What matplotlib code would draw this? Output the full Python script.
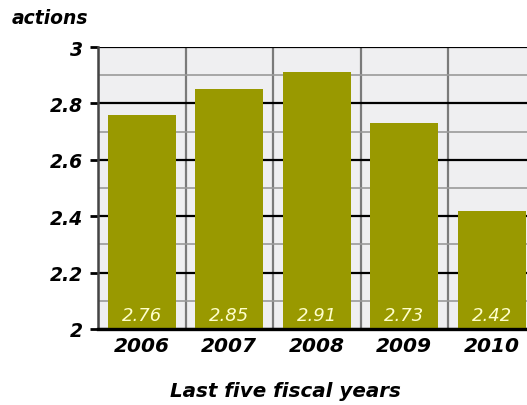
import numpy as np
import matplotlib
matplotlib.use("Agg")
import matplotlib.pyplot as plt

years = ["2006", "2007", "2008", "2009", "2010"]
values = [2.76, 2.85, 2.91, 2.73, 2.42]
value_labels = ["2.76", "2.85", "2.91", "2.73", "2.42"]
y_ticks = [2.0, 2.2, 2.4, 2.6, 2.8, 3.0]
y_tick_labels = ["2", "2.2", "2.4", "2.6", "2.8", "3"]
y_minor = [2.1, 2.3, 2.5, 2.7, 2.9]

W, H = 527, 406
fig = plt.figure(figsize=(W / 100, H / 100), dpi=100)
fig.patch.set_facecolor("white")

# axes runs past the right edge, like the cropped original
ax = fig.add_axes([98 / W, 76 / H, 437.5 / W, 282 / H])
ax.set_facecolor("#efeff1")

x = np.arange(len(years))
ax.bar(x, [v - 2 for v in values], bottom=2, width=0.78, color="#999900", zorder=3)

for xi, lab in zip(x, value_labels):
    ax.text(xi, 2.05, lab, ha="center", va="center", color="#ffffcc",
            fontsize=13, fontstyle="italic", zorder=4)

ax.set_xlim(-0.5, 4.5)
ax.set_ylim(2, 3)

ax.set_yticks(y_ticks)
ax.set_yticklabels(y_tick_labels, fontsize=13.5, fontweight="bold", fontstyle="italic")
ax.set_yticks(y_minor, minor=True)
ax.set_xticks(x)
ax.set_xticklabels(years, fontsize=14.5, fontweight="bold", fontstyle="italic")
ax.set_xticks(np.arange(-0.5, 5), minor=True)

ax.tick_params(axis="y", which="major", length=6, width=2, color="black", pad=5)
ax.tick_params(axis="y", which="minor", length=0)
ax.tick_params(axis="x", which="both", length=0, pad=5)

ax.grid(axis="y", which="major", color="black", linewidth=1.6, zorder=1)
ax.grid(axis="y", which="minor", color="#9a9a9a", linewidth=1.2, zorder=1)
ax.grid(axis="x", which="minor", color="#7a7a7a", linewidth=1.6, zorder=1)
ax.grid(axis="x", which="major", visible=False)
ax.set_axisbelow(True)

for side in ["top", "right"]:
    ax.spines[side].set_visible(False)
ax.spines["left"].set_color("#444444")
ax.spines["left"].set_linewidth(1.8)
ax.spines["bottom"].set_color("black")
ax.spines["bottom"].set_linewidth(2.4)
ax.spines["bottom"].set_zorder(5)

ax.set_xlabel("Last five fiscal years", fontsize=14.3, fontweight="bold",
              fontstyle="italic")
ax.xaxis.label.set_verticalalignment("center")
ax.xaxis.set_label_coords(187 / 437.5, -62 / 282)

fig.text(12 / W, 1 - 18 / H, "actions", fontsize=13.5, fontweight="bold",
         fontstyle="italic", ha="left", va="center")

fig.savefig("out.png", dpi=100)
